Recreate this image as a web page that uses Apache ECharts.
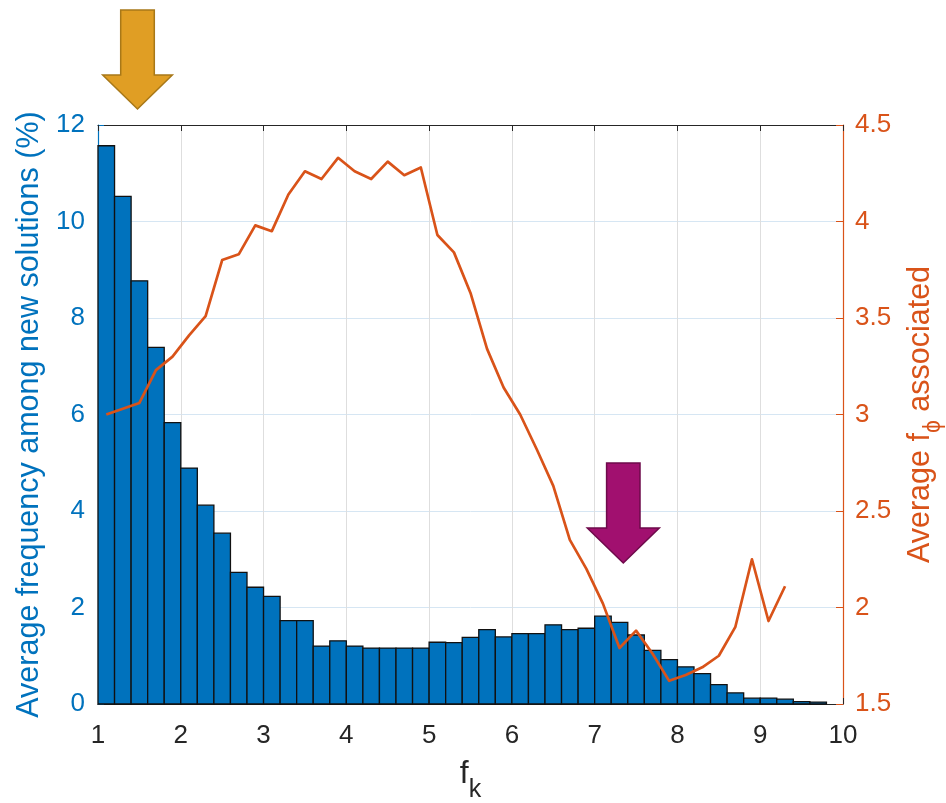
<!DOCTYPE html>
<html>
<head>
<meta charset="utf-8">
<script src="https://cdn.jsdelivr.net/npm/echarts@6/dist/echarts.min.js"></script>
<style>
html,body{margin:0;padding:0;background:#fff;}
#chart{width:946px;height:803px;}
</style>
</head>
<body>
<div id="chart"></div>
<script>
// ---- data ----
const binCenters = [1.1,1.3,1.5,1.7,1.9,2.1,2.3,2.5,2.7,2.9,3.1,3.3,3.5,3.7,3.9,4.1,4.3,4.5,4.7,4.9,
  5.1,5.3,5.5,5.7,5.9,6.1,6.3,6.5,6.7,6.9,7.1,7.3,7.5,7.7,7.9,8.1,8.3,8.5,8.7,8.9,9.1,9.3,9.5,9.7];
const frequencyPct = [11.57,10.52,8.77,7.39,5.83,4.89,4.12,3.54,2.73,2.42,2.23,1.73,1.73,1.20,1.31,1.20,1.16,1.16,1.16,1.16,
  1.28,1.27,1.38,1.54,1.39,1.46,1.46,1.64,1.54,1.57,1.82,1.69,1.43,1.11,0.92,0.77,0.63,0.40,0.23,0.12,0.12,0.10,0.05,0.04];
const binWidth = 0.2;
const lineCenters = [1.1,1.3,1.5,1.7,1.9,2.1,2.3,2.5,2.7,2.9,3.1,3.3,3.5,3.7,3.9,4.1,4.3,4.5,4.7,4.9,
  5.1,5.3,5.5,5.7,5.9,6.1,6.3,6.5,6.7,6.9,7.1,7.3,7.5,7.7,7.9,8.1,8.3,8.5,8.7,8.9,9.1,9.3];
const avgFphi = [3.00,3.03,3.06,3.23,3.30,3.41,3.51,3.80,3.83,3.98,3.95,4.14,4.26,4.22,4.33,4.26,4.22,4.31,4.24,4.28,
  3.93,3.84,3.63,3.34,3.14,3.00,2.82,2.63,2.35,2.20,2.02,1.79,1.88,1.76,1.62,1.65,1.69,1.75,1.90,2.25,1.93,2.11];
const xRange = [1, 10, 1];
const yLeftRange = [0, 12, 2];
const yRightRange = [1.5, 4.5, 0.5];
const xLabel = ['f', 'k'];
const yLeftLabel = 'Average frequency among new solutions (%)';
const yRightLabel = ['Average f', 'ϕ', ' associated'];

// ---- styles ----
const FONT = 'Liberation Sans, Arial, Helvetica, sans-serif';
const BLUE = '#0072BD', ORANGE = '#D95319', DARK = '#262626';

const chart = echarts.init(document.getElementById('chart'), null, {renderer: 'canvas'});

const barData = binCenters.map((x, i) => [x, frequencyPct[i]]);
const lineData = lineCenters.map((x, i) => [x, avgFphi[i]]);

const option = {
  backgroundColor: '#fff',
  animation: false,
  textStyle: {fontFamily: FONT},
  grid: {left: 98, right: 103, top: 125, bottom: 99, containLabel: false, outerBoundsMode: 'none'},
  xAxis: [{
    type: 'value', position: 'bottom',
    min: xRange[0], max: xRange[1], interval: xRange[2],
    axisLine: {show: true, onZero: false, lineStyle: {color: DARK, width: 1.2}},
    axisTick: {show: true, inside: true, length: 6, lineStyle: {color: DARK}},
    axisLabel: {color: DARK, fontSize: 26, fontFamily: FONT, margin: 19},
    splitLine: {show: true, lineStyle: {color: '#dedede', width: 1}},
    name: '{a|' + xLabel[0] + '}{b|' + xLabel[1] + '}',
    nameLocation: 'middle', nameGap: 41,
    nameTextStyle: {
      fontFamily: FONT, color: DARK,
      rich: {
        a: {fontSize: 32, lineHeight: 58, fontFamily: FONT, color: DARK},
        b: {fontSize: 25, lineHeight: 24, verticalAlign: 'bottom', fontFamily: FONT, color: DARK}
      }
    }
  }, {
    type: 'value', position: 'top',
    min: xRange[0], max: xRange[1], interval: xRange[2],
    axisLine: {show: true, onZero: false, lineStyle: {color: DARK, width: 1.2}},
    axisTick: {show: true, inside: true, length: 6, lineStyle: {color: DARK}},
    axisLabel: {show: false},
    splitLine: {show: false}
  }],
  yAxis: [{
    type: 'value', position: 'left',
    min: yLeftRange[0], max: yLeftRange[1], interval: yLeftRange[2],
    axisLine: {show: true, onZero: false, lineStyle: {color: BLUE, width: 1.2}},
    axisTick: {show: true, inside: true, length: 6, lineStyle: {color: BLUE}},
    axisLabel: {color: BLUE, fontSize: 26, fontFamily: FONT, margin: 13},
    splitLine: {show: true, lineStyle: {color: '#d6e6f3', width: 1}},
    name: yLeftLabel, nameLocation: 'middle', nameGap: 52,
    nameTextStyle: {color: BLUE, fontSize: 30.5, fontFamily: FONT}
  }, {
    type: 'value', position: 'right',
    min: yRightRange[0], max: yRightRange[1], interval: yRightRange[2],
    axisLine: {show: true, onZero: false, lineStyle: {color: ORANGE, width: 1.2}},
    axisTick: {show: true, inside: true, length: 7, lineStyle: {color: ORANGE}},
    axisLabel: {color: ORANGE, fontSize: 26, fontFamily: FONT, margin: 12,
      formatter: v => String(Math.round(v * 10) / 10)},
    splitLine: {show: false},
    name: '{a|' + yRightLabel[0] + '}{b|' + yRightLabel[1] + '}{a|' + yRightLabel[2] + '}',
    nameLocation: 'middle', nameGap: 54,
    nameTextStyle: {
      color: ORANGE, fontFamily: FONT,
      rich: {
        a: {fontSize: 30.5, lineHeight: 48, fontFamily: FONT, color: ORANGE},
        b: {fontSize: 23, lineHeight: 22, verticalAlign: 'bottom', fontFamily: FONT, color: ORANGE}
      }
    }
  }],
  series: [{
    type: 'custom',
    name: 'frequency',
    xAxisIndex: 0, yAxisIndex: 0,
    encode: {x: 0, y: 1},
    data: barData,
    z: 2,
    renderItem: function (params, api) {
      const x = api.value(0), y = api.value(1);
      const p0 = api.coord([x - binWidth / 2, y]);
      const p1 = api.coord([x + binWidth / 2, 0]);
      return {
        type: 'rect',
        shape: {x: p0[0], y: p0[1], width: p1[0] - p0[0], height: p1[1] - p0[1]},
        style: {fill: BLUE, stroke: '#111', lineWidth: 1.3}
      };
    }
  }, {
    type: 'line',
    name: 'fphi',
    xAxisIndex: 0, yAxisIndex: 1,
    data: lineData,
    showSymbol: false, symbol: 'none',
    z: 5,
    lineStyle: {color: ORANGE, width: 2.7, join: 'round'},
    itemStyle: {color: ORANGE}
  }]
};
chart.setOption(option);

// ---- annotation arrows (decorations) ----
function arrow(cx, top, shaftHalf, headTop, headHalf, tip, fill, stroke) {
  return {
    type: 'polygon', z: 100,
    shape: {points: [
      [cx - shaftHalf, top], [cx + shaftHalf, top], [cx + shaftHalf, headTop],
      [cx + headHalf, headTop], [cx, tip], [cx - headHalf, headTop], [cx - shaftHalf, headTop]
    ]},
    style: {fill: fill, stroke: stroke, lineWidth: 1.5}
  };
}
chart.setOption({
  graphic: [
    arrow(137.5, 10, 16.8, 75, 34.8, 109, '#E09E24', '#A87818'),
    arrow(623.3, 463, 16.7, 528, 36, 563, '#A1106F', '#6E0A4B')
  ]
});
</script>
</body>
</html>
